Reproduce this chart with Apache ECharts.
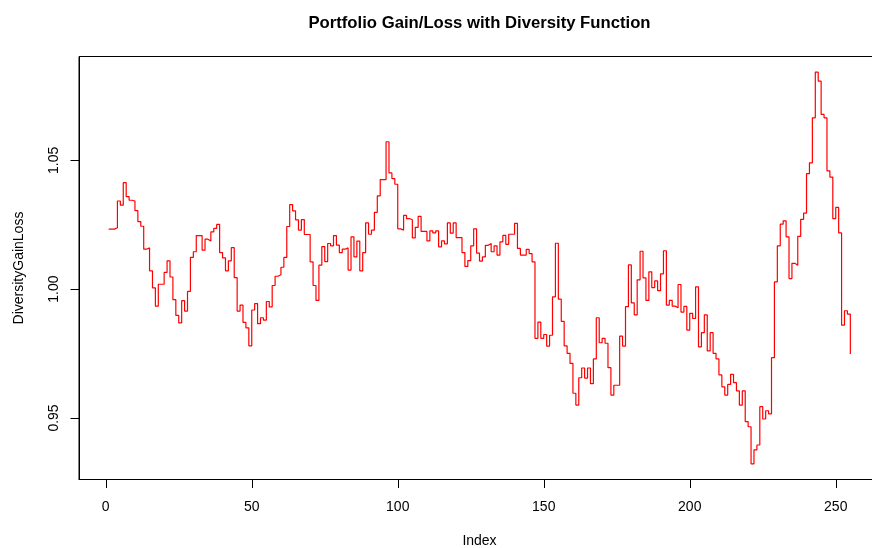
<!DOCTYPE html>
<html>
<head>
<meta charset="utf-8">
<script src="https://cdn.jsdelivr.net/npm/echarts@6/dist/echarts.min.js"></script>
<style>html,body{margin:0;padding:0;background:#fff}#c{width:872px;height:548px}</style>
</head>
<body>
<div id="c"></div>
<script>
var chartTitle = "Portfolio Gain/Loss with Diversity Function";
var xName = "Index";
var yName = "DiversityGainLoss";
var xTicks = [0, 50, 100, 150, 200, 250];
var yTicks = [0.95, 1.00, 1.05];
var gainLoss = [
1.0233,1.0233,1.0238,1.0342,1.0326,1.0413,1.0359,1.0345,1.0342,1.0305,
1.0262,1.0244,1.0155,1.0160,1.0071,1.0005,0.9934,1.0019,1.0019,1.0065,
1.0110,1.0047,0.9959,0.9898,0.9869,0.9955,0.9915,0.9991,1.0123,1.0145,
1.0208,1.0208,1.0151,1.0194,1.0187,1.0222,1.0236,1.0251,1.0142,1.0121,
1.0071,1.0110,1.0161,1.0045,0.9915,0.9938,0.9871,0.9850,0.9780,0.9919,
0.9944,0.9866,0.9889,0.9880,0.9952,0.9931,1.0014,1.0050,1.0056,1.0085,
1.0123,1.0243,1.0328,1.0304,1.0269,1.0229,1.0270,1.0212,1.0212,1.0106,
1.0014,0.9956,1.0093,1.0165,1.0107,1.0177,1.0168,1.0208,1.0171,1.0142,
1.0155,1.0160,1.0074,1.0203,1.0125,1.0186,1.0071,1.0142,1.0257,1.0213,
1.0229,1.0298,1.0362,1.0425,1.0425,1.0572,1.0451,1.0429,1.0407,1.0234,
1.0229,1.0286,1.0274,1.0269,1.0199,1.0240,1.0282,1.0224,1.0224,1.0187,
1.0226,1.0218,1.0226,1.0164,1.0187,1.0176,1.0257,1.0217,1.0257,1.0200,
1.0200,1.0142,1.0088,1.0111,1.0168,1.0234,1.0140,1.0109,1.0125,1.0170,
1.0177,1.0145,1.0168,1.0132,1.0183,1.0209,1.0174,1.0213,1.0213,1.0255,
1.0158,1.0132,1.0132,1.0154,1.0138,1.0106,0.9809,0.9872,0.9809,0.9824,
0.9779,0.9821,0.9970,1.0178,0.9961,0.9875,0.9780,0.9751,0.9712,0.9596,
0.9550,0.9656,0.9694,0.9655,0.9694,0.9633,0.9729,0.9889,0.9792,0.9809,
0.9790,0.9695,0.9589,0.9627,0.9627,0.9818,0.9779,0.9932,1.0094,0.9947,
0.9900,1.0036,1.0147,1.0044,0.9956,1.0067,1.0006,1.0032,0.9994,1.0059,
1.0149,0.9938,0.9956,0.9934,0.9928,1.0018,0.9911,0.9933,0.9841,0.9906,
0.9886,1.0009,0.9776,0.9831,0.9900,0.9760,0.9831,0.9751,0.9729,0.9667,
0.9621,0.9589,0.9630,0.9669,0.9637,0.9605,0.9550,0.9605,0.9486,0.9466,
0.9322,0.9376,0.9395,0.9544,0.9496,0.9528,0.9516,0.9734,1.0028,1.0168,
1.0252,1.0265,1.0203,1.0041,1.0100,1.0093,1.0205,1.0271,1.0295,1.0448,
1.0490,1.0665,1.0842,1.0807,1.0678,1.0665,1.0459,1.0435,1.0274,1.0317,
1.0218,0.9860,0.9916,0.9903,0.9748
];
var indexValues = gainLoss.map(function (v, i) { return i + 1; });

// R-style 4% axis extension
var xmin0 = indexValues[0], xmax0 = indexValues[indexValues.length - 1];
var xr = xmax0 - xmin0;
var ymin0 = Math.min.apply(null, gainLoss), ymax0 = Math.max.apply(null, gainLoss);
var yr = ymax0 - ymin0;
var xLo = xmin0 - 0.04 * xr, xHi = xmax0 + 0.04 * xr;
var yLo = ymin0 - 0.04 * yr, yHi = ymax0 + 0.04 * yr;

var TICK_LEN = 8.5;
var FONT = "'Liberation Sans', Arial, Helvetica, sans-serif";
var chart = echarts.init(document.getElementById('c'), null, {renderer: 'canvas'});
chart.setOption({
  animation: false,
  backgroundColor: '#ffffff',
  title: {
    text: chartTitle,
    left: 479.5,
    top: 15,
    padding: 0,
    textAlign: 'center',
    textStyle: {fontFamily: FONT, fontSize: 16.7, fontWeight: 'bold', color: '#000'}
  },
  grid: {
    left: 79, top: 56.5, width: 801, height: 423,
    show: true, borderColor: '#000', borderWidth: 1, backgroundColor: 'transparent',
    containLabel: false,
    outerBoundsMode: 'none'
  },
  xAxis: {
    type: 'value',
    min: xLo,
    max: xHi,
    name: xName,
    nameLocation: 'middle',
    nameGap: 55,
    nameTextStyle: {fontFamily: FONT, fontSize: 14, color: '#000'},
    axisLine: {show: true, onZero: false, lineStyle: {color: '#000', width: 1}},
    splitLine: {show: false},
    axisTick: {show: false},
    axisLabel: {
      customValues: xTicks, margin: 21,
      fontFamily: FONT, fontSize: 14, color: '#000',
      formatter: function (v) { return String(Math.round(v)); }
    }
  },
  yAxis: {
    type: 'value',
    min: yLo,
    max: yHi,
    name: yName,
    nameLocation: 'middle',
    nameGap: 53,
    nameTextStyle: {fontFamily: FONT, fontSize: 14, color: '#000'},
    axisLine: {show: true, onZero: false, lineStyle: {color: '#000', width: 1}},
    splitLine: {show: false},
    axisTick: {show: false},
    axisLabel: {
      customValues: yTicks, rotate: 90, margin: 18,
      fontFamily: FONT, fontSize: 14, color: '#000',
      formatter: function (v) { return v.toFixed(2); }
    }
  },
  series: [{
    type: 'line',
    step: 'end',
    showSymbol: false,
    symbol: 'none',
    data: indexValues.map(function (x, i) { return [x, gainLoss[i]]; }),
    lineStyle: {color: '#ff0000', width: 1.2},
    emphasis: {disabled: true}
  }, {
    // x-axis tick marks (R style, outward), positioned through the axis scale
    type: 'custom',
    silent: true,
    clip: false,
    data: xTicks.map(function (v) { return [v, yLo]; }),
    renderItem: function (params, api) {
      var p = api.coord([api.value(0), api.value(1)]);
      var x = Math.round(p[0]) + 0.5;
      return {type: 'line', shape: {x1: x, y1: p[1], x2: x, y2: p[1] + TICK_LEN},
              style: {stroke: '#000', lineWidth: 1}};
    }
  }, {
    // y-axis tick marks
    type: 'custom',
    silent: true,
    clip: false,
    data: yTicks.map(function (v) { return [xLo, v]; }),
    renderItem: function (params, api) {
      var p = api.coord([api.value(0), api.value(1)]);
      var y = Math.round(p[1]) + 0.5;
      return {type: 'line', shape: {x1: p[0], y1: y, x2: p[0] - TICK_LEN, y2: y},
              style: {stroke: '#000', lineWidth: 1}};
    }
  }]
});
</script>
</body>
</html>
